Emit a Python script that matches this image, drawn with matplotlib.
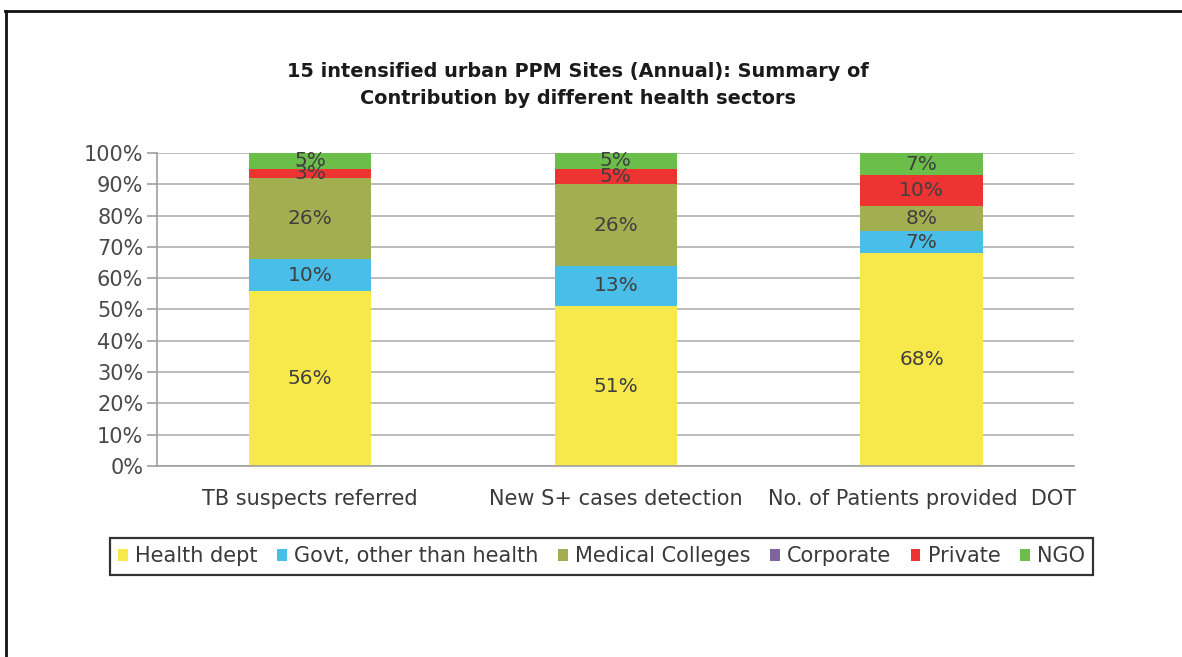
import matplotlib
matplotlib.use("Agg")
import matplotlib.pyplot as plt
from matplotlib.lines import Line2D
import numpy as np

plt.rcParams['font.family'] = ['DejaVu Sans']

categories = ["TB suspects referred", "New S+ cases detection", "No. of Patients provided  DOT"]
sectors = ["Health dept", "Govt, other than health", "Medical Colleges", "Corporate", "Private", "NGO"]
health = [56, 51, 68]
govt = [10, 13, 7]
medical = [26, 26, 8]
corporate = [0, 0, 0]
private = [3, 5, 10]
ngo = [5, 5, 7]
colors = ["#F7E84B", "#48BEE8", "#A3AE50", "#8064A2", "#EE3333", "#6CBE4A"]

series = [health, govt, medical, corporate, private, ngo]

fig = plt.figure(figsize=(11.82, 6.57), dpi=100)
ax = fig.add_axes([0.133, 0.291, 0.776, 0.476])

x = np.arange(len(categories))
bottom = np.zeros(len(categories))
for name, vals, col in zip(sectors, series, colors):
    vals = np.array(vals, dtype=float)
    ax.bar(x, vals, 0.4, bottom=bottom, color=col, label=name, zorder=2)
    for xi, b, v in zip(x, bottom, vals):
        if v > 0:
            ax.text(xi, b + v / 2, "%d%%" % v, ha="center", va="center",
                    fontsize=14.5, color="#404040", zorder=3)
    bottom += vals

ax.set_xlim(-0.5, 2.5)
ax.set_ylim(0, 100)
ax.set_yticks(np.arange(0, 101, 10))
ax.set_yticklabels(["%d%%" % v for v in range(0, 101, 10)], fontsize=15, color="#4a4a4a")
ax.set_xticks(x)
ax.set_xticklabels(categories, fontsize=15, color="#3a3a3a")
ax.tick_params(axis="x", length=0, pad=17)
ax.tick_params(axis="y", length=7, color="#a0a0a0", width=1.2, pad=3)
ax.yaxis.grid(True, color="#b0b0b0", linewidth=1.2, zorder=0)
ax.set_axisbelow(True)
for s in ["top", "right"]:
    ax.spines[s].set_visible(False)
ax.spines["left"].set_color("#a0a0a0")
ax.spines["bottom"].set_color("#a0a0a0")
ax.spines["left"].set_linewidth(1.2)
ax.spines["bottom"].set_linewidth(1.2)

fig.text(0.489, 0.871, "15 intensified urban PPM Sites (Annual): Summary of\nContribution by different health sectors",
         ha="center", va="center", fontsize=13.9, fontweight="bold", color="#1a1a1a", linespacing=1.55)

leg = fig.legend(loc="center", bbox_to_anchor=(0.509, 0.153), ncol=6, fontsize=15,
                 frameon=True, fancybox=False, shadow=False, handlelength=0.45, handleheight=0.45,
                 handletextpad=0.35, columnspacing=0.95, borderpad=0.4, labelcolor="#3a3a3a")
leg.get_frame().set_edgecolor("black")
leg.get_frame().set_linewidth(1.6)

# outer frame (top and left edges)
fig.add_artist(Line2D([0.004, 1.0], [0.983, 0.983], color="#111111", linewidth=2))
fig.add_artist(Line2D([0.005, 0.005], [0.0, 0.983], color="#111111", linewidth=2))

fig.savefig("out.png", dpi=100)
